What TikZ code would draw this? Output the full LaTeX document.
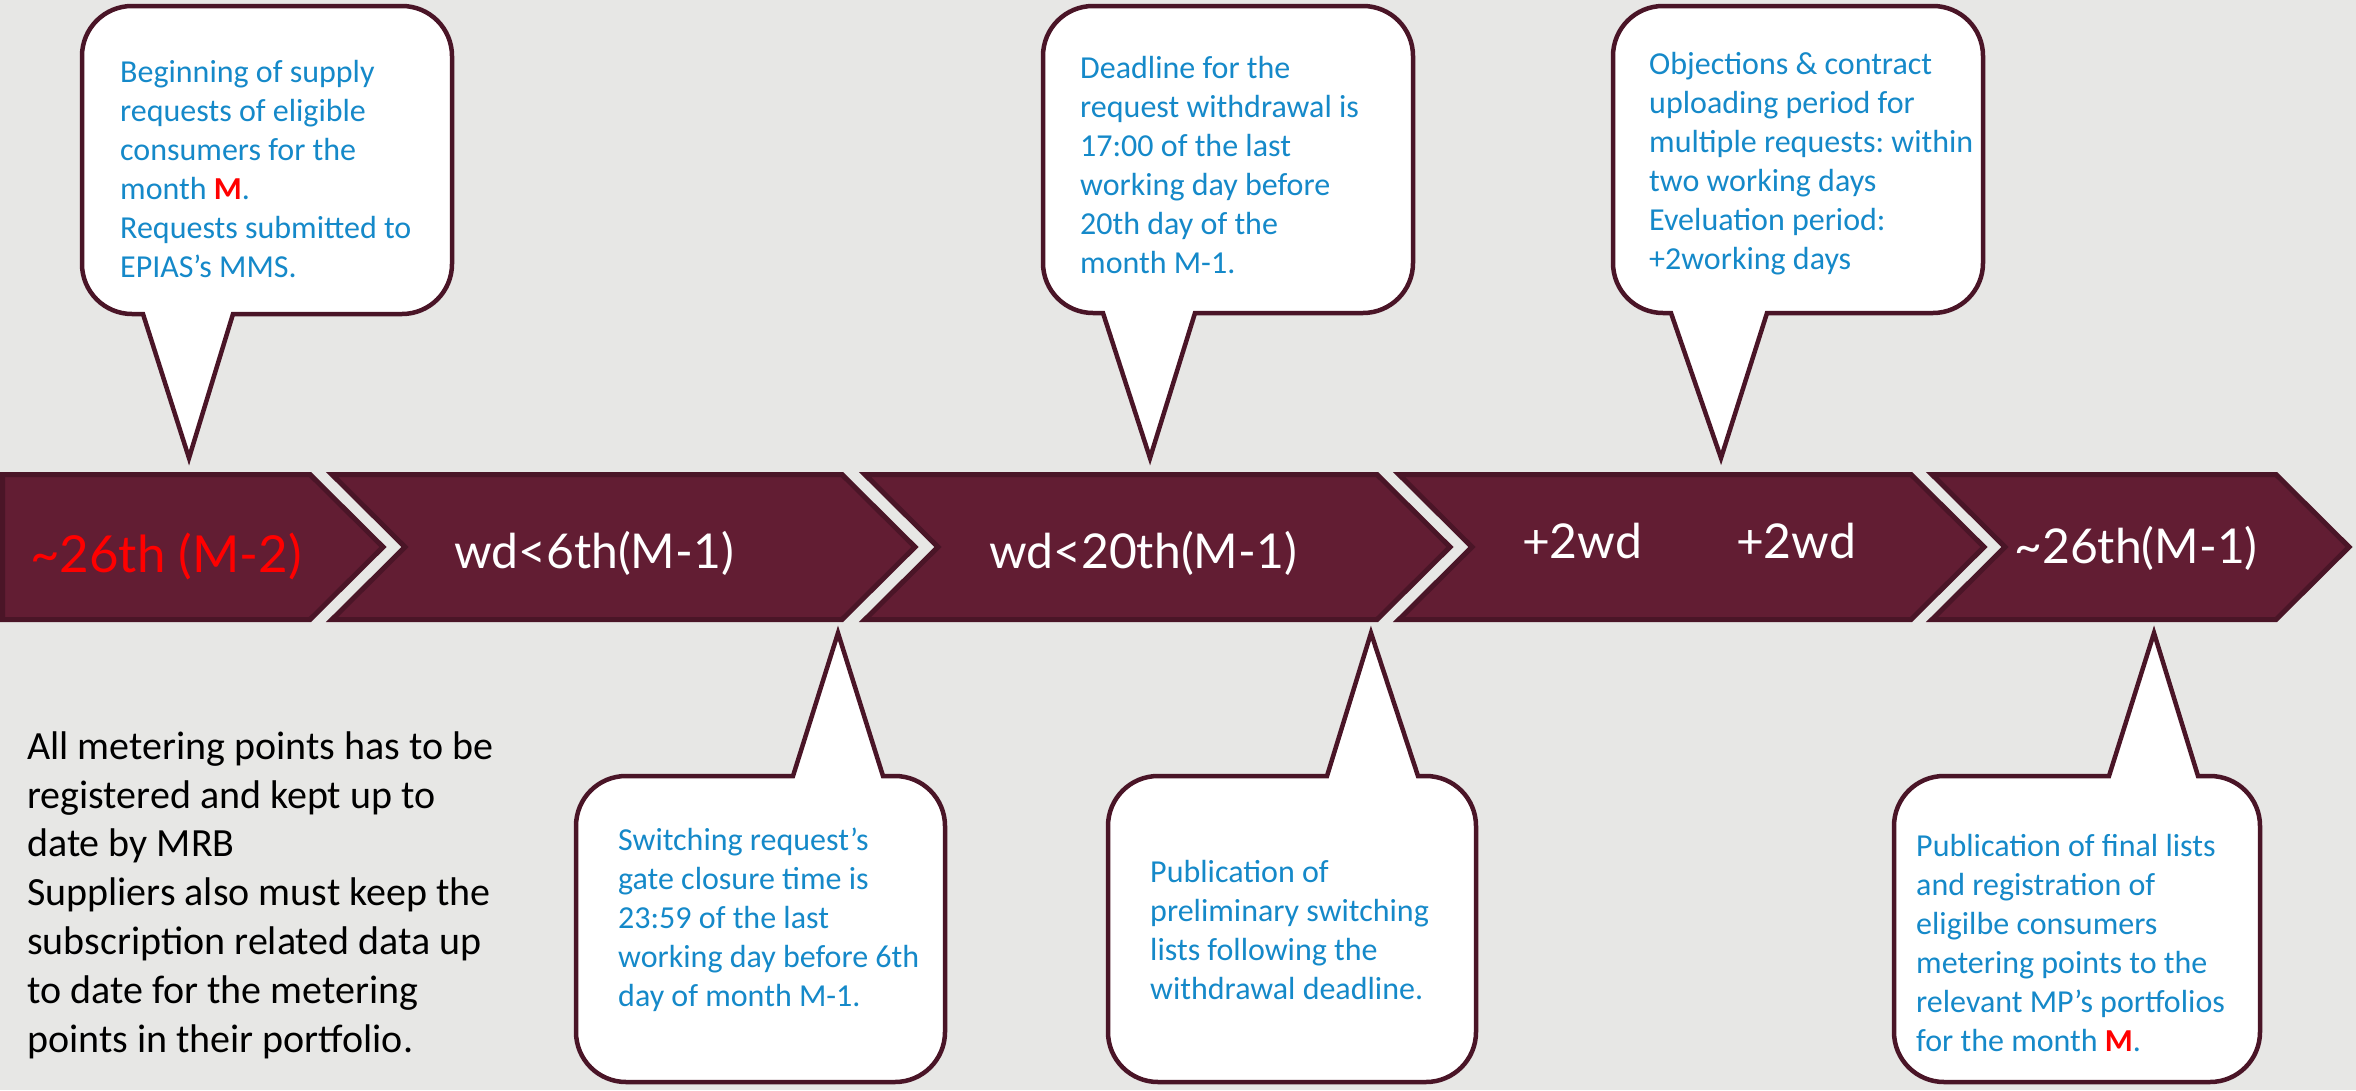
\documentclass[tikz,border=0pt]{standalone}
\usepackage{fontspec}
\setmainfont{Carlito}
\newfontfamily\chevfont{Lato}
\frenchspacing
\definecolor{bg}{HTML}{E7E7E5}
\definecolor{chevfill}{HTML}{621D33}
\definecolor{chevline}{HTML}{4A1527}
\definecolor{txtblue}{HTML}{1589C9}
\definecolor{mred}{HTML}{FF0000}
\tikzset{
  chevron/.style={fill=chevfill, draw=chevline, line width=5pt, line join=miter},
  callout/.style={fill=white, draw=chevline, line width=4.5pt, line join=miter},
  ctext/.style={anchor=base west, inner sep=0pt, align=left, text=txtblue, font=\fontsize{32}{39}\selectfont},
  ltext/.style={anchor=base west, inner sep=0pt, align=left, text=black, font=\fontsize{40}{48.8}\selectfont},
  chevlabel/.style={anchor=base, inner sep=0pt, text=white, font=\chevfont\fontsize{48}{56}\selectfont},
}
% L T R B pbL pbR tipx tipy
\newcommand\CalloutDown[8]{%
  \draw[callout] ({#1+50},#2) -- ({#3-50},#2) arc[start angle=270,end angle=360,radius=50]
    -- (#3,{#4-50}) arc[start angle=0,end angle=90,radius=50]
    -- (#6,#4) -- (#7,#8) -- (#5,#4)
    -- ({#1+50},#4) arc[start angle=90,end angle=180,radius=50]
    -- (#1,{#2+50}) arc[start angle=180,end angle=270,radius=50] -- cycle;}
\newcommand\CalloutUp[8]{%
  \draw[callout] ({#1+50},#2) -- (#5,#2) -- (#7,#8) -- (#6,#2)
    -- ({#3-50},#2) arc[start angle=270,end angle=360,radius=50]
    -- (#3,{#4-50}) arc[start angle=0,end angle=90,radius=50]
    -- ({#1+50},#4) arc[start angle=90,end angle=180,radius=50]
    -- (#1,{#2+50}) arc[start angle=180,end angle=270,radius=50] -- cycle;}
\newcommand\RM{\textcolor{mred}{\textbf{M}}}
\begin{document}
\begin{tikzpicture}[x=1pt,y=-1pt]
\useasboundingbox (0,0) rectangle (2356,1090);
\fill[bg] (0,0) rectangle (2356,1090);

% chevrons
\draw[chevron] (2.5,474.5) -- (310,474.5) -- (383,547) -- (310,619.5) -- (2.5,619.5) -- cycle;
\draw[chevron] (332,474.5) -- (842,474.5) -- (915,547) -- (842,619.5) -- (332,619.5) -- (405,547) -- cycle;
\draw[chevron] (865,474.5) -- (1377,474.5) -- (1450,547) -- (1377,619.5) -- (865,619.5) -- (938,547) -- cycle;
\draw[chevron] (1399,474.5) -- (1911,474.5) -- (1984,547) -- (1911,619.5) -- (1399,619.5) -- (1472,547) -- cycle;
\draw[chevron] (1932,474.5) -- (2276,474.5) -- (2349,547) -- (2276,619.5) -- (1932,619.5) -- (2005,547) -- cycle;

\node[chevlabel, text=mred, font=\chevfont\fontsize{51}{60}\selectfont] (lab1) at (166,572) {\textasciitilde26th (M-2)};
\node[chevlabel] (lab2) at (594,568) {wd<6th(M-1)};
\node[chevlabel] (lab3) at (1143,568) {wd<20th(M-1)};
\node[chevlabel] (lab4) at (1582,558) {+2wd};
\node[chevlabel] (lab5) at (1796,558) {+2wd};
\node[chevlabel] (lab6) at (2136,563) {\textasciitilde26th(M-1)};

% top callouts
\CalloutDown{82}{6}{452}{314}{143}{233}{189}{458}
\CalloutDown{1043}{6}{1413}{313}{1103}{1195}{1150}{458}
\CalloutDown{1613}{6}{1983}{313}{1671}{1767}{1721}{458}
% bottom callouts
\CalloutUp{576}{776}{945}{1082}{793}{883}{838}{633}
\CalloutUp{1108}{776}{1476}{1082}{1327}{1418}{1371}{633}
\CalloutUp{1894}{776}{2260}{1082}{2109}{2198}{2154}{633}

% anchors are at the baseline of the last line
\node[ctext] (t1) at (120,277) {Beginning of supply\\requests of eligible\\consumers for the\\month \RM.\\Requests submitted to\\EPIAS’s MMS.};
\node[ctext] (t2) at (1080,273) {Deadline for the\\request withdrawal is\\17:00 of the last\\working day before\\20th day of the\\month M-1.};
\node[ctext] (t3) at (1649,269) {Objections \& contract\\uploading period for\\multiple requests: within\\two working days\\Eveluation period:\\+2working days};
\node[ctext] (t4) at (618,1006) {Switching request’s\\gate closure time is\\23:59 of the last\\working day before 6th\\day of month M-1.};
\node[ctext] (t5) at (1150,999) {Publication of\\preliminary switching\\lists following the\\withdrawal deadline.};
\node[ctext] (t6) at (1916,1051) {Publication of final lists\\and registration of\\eligilbe consumers\\metering points to the\\relevant MP’s portfolios\\for the month \RM.};

\node[ltext] (note) at (27,1052) {All metering points has to be\\registered and kept up to\\date by MRB\\Suppliers also must keep the\\subscription related data up\\to date for the metering\\points in their portfolio.};
\end{tikzpicture}
\end{document}
